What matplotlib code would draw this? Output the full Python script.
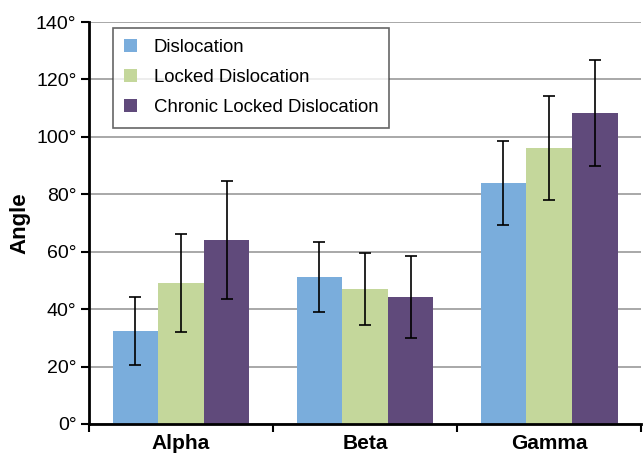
import matplotlib.pyplot as plt
import numpy as np

plt.rcParams['font.family'] = ['Liberation Sans', 'DejaVu Sans']

categories = ['Alpha', 'Beta', 'Gamma']
series = ['Dislocation', 'Locked Dislocation', 'Chronic Locked Dislocation']
means = [
    [32.5, 51.2, 83.9],
    [49.1, 47.0, 96.1],
    [64.1, 44.2, 108.3],
]
errors = [
    [11.8, 12.3, 14.7],
    [17.2, 12.4, 18.1],
    [20.7, 14.3, 18.5],
]
colors = ['#7aaddc', '#c4d79b', '#604a7b']
yticks = [0, 20, 40, 60, 80, 100, 120, 140]

fig = plt.figure(figsize=(6.43, 4.59), dpi=100)
ax = fig.add_axes([0.1384, 0.0763, 0.8586, 0.8757])

x = np.arange(len(categories))
w = 0.248
for i in range(len(series)):
    ax.bar(x + (i - 1) * w, means[i], w, color=colors[i], label=series[i],
           yerr=errors[i], capsize=4,
           error_kw={'elinewidth': 1.2, 'capthick': 1.2, 'ecolor': 'black'},
           zorder=3)

ax.set_xlim(-0.5, 2.5)
ax.set_ylim(0, 140)
ax.set_yticks(yticks)
ax.set_yticklabels([f'{v}°' for v in yticks], fontsize=14)
ax.set_xticks(x)
ax.set_xticklabels(categories, fontsize=15, fontweight='bold')
ax.set_xticks([-0.5, 0.5, 1.5, 2.5], minor=True)
ax.tick_params(axis='x', which='major', length=0, pad=7)
ax.tick_params(axis='x', which='minor', length=6, width=1.5, direction='out')
ax.tick_params(axis='y', length=6, width=1.5, direction='out', pad=3)
ax.set_ylabel('Angle', fontsize=16, fontweight='bold', labelpad=4)

ax.grid(axis='y', color='#999999', linewidth=1.2, zorder=0)
for s in ['top', 'right']:
    ax.spines[s].set_visible(False)
ax.spines['left'].set_linewidth(2)
ax.spines['bottom'].set_linewidth(2)
ax.spines['bottom'].set_zorder(4)

leg = ax.legend(loc='upper left', bbox_to_anchor=(0.043, 0.985), fontsize=13.4,
                frameon=True, fancybox=False, edgecolor='#404040',
                handlelength=0.7, handleheight=0.7, handletextpad=0.9,
                labelspacing=0.7, borderpad=0.6, borderaxespad=0)
leg.get_frame().set_linewidth(1.2)

fig.savefig('out.png', dpi=100)
